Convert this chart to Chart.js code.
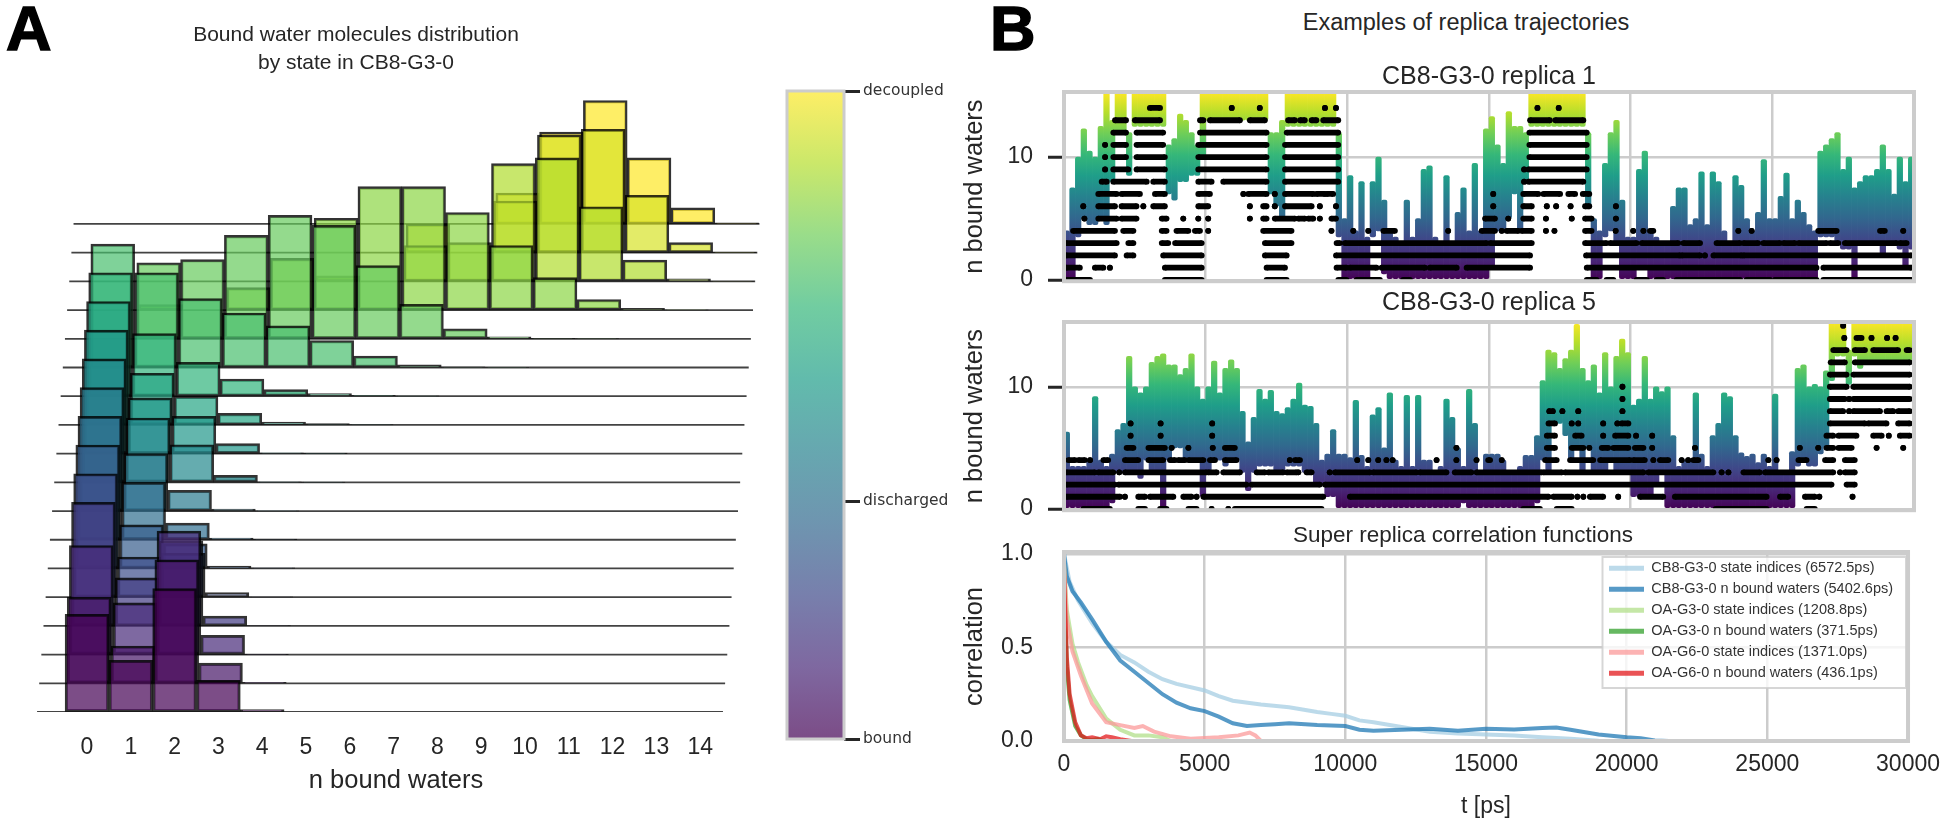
<!DOCTYPE html>
<html>
<head>
<meta charset="utf-8">
<title>Bound water molecules</title>
<script src="https://cdn.jsdelivr.net/npm/chart.js@4/dist/chart.umd.min.js"></script>
<style>
  html, body { margin: 0; background: #fff; }
  body { position: relative; width: 1950px; height: 824px; overflow: hidden; font-family: "Liberation Sans", Arial, sans-serif; color: #262626; }
  canvas { position: absolute; }
  .panel-letter { position: absolute; font-weight: bold; font-size: 63px; line-height: 63px; color: #000; -webkit-text-stroke: 1.5px #000; }
  .heading { position: absolute; left: 1466px; top: 8px; transform: translateX(-50%); font-size: 23.5px; line-height: 28px; white-space: nowrap; }
</style>
</head>
<body>
<div class="panel-letter" style="left:6px;top:-3px">A</div>
<div class="panel-letter" style="left:990px;top:-3px">B</div>
<div class="heading">Examples of replica trajectories</div>
<canvas id="ridge" width="792" height="824" style="left:0;top:0"></canvas>
<canvas id="colorbar" width="190" height="700" style="left:770px;top:70px"></canvas>
<canvas id="replica1" width="990" height="250" style="left:960px;top:60px"></canvas>
<canvas id="replica5" width="990" height="254" style="left:960px;top:285px"></canvas>
<canvas id="correlation" width="990" height="314" style="left:960px;top:510px"></canvas>
<script>
// Histogram heights per state row, bottom row (bound) first, one value per n bound waters 0..14.
const nBoundLabels = [0, 1, 2, 3, 4, 5, 6, 7, 8, 9, 10, 11, 12, 13, 14];
const stateHistograms = [
  [0.34, 0.18, 0.43, 0.11, 0.008, 0, 0, 0, 0, 0, 0, 0, 0, 0, 0],
  [0.3, 0.13, 0.43, 0.07, 0.003, 0, 0, 0, 0, 0, 0, 0, 0, 0, 0],
  [0.38, 0.18, 0.43, 0.067, 0.001, 0, 0, 0, 0, 0, 0, 0, 0, 0, 0],
  [0.43, 0.167, 0.296, 0.034, 0.001, 0, 0, 0, 0, 0, 0, 0, 0, 0, 0],
  [0.43, 0.14, 0.153, 0.016, 0.001, 0, 0, 0, 0, 0, 0, 0, 0, 0, 0],
  [0.43, 0.152, 0.086, 0.008, 0.002, 0, 0, 0, 0, 0, 0, 0, 0, 0, 0],
  [0.43, 0.2, 0.058, 0.006, 0.002, 0, 0, 0, 0, 0, 0, 0, 0, 0, 0],
  [0.43, 0.2, 0.072, 0.007, 0.001, 0, 0, 0, 0, 0, 0, 0, 0, 0, 0],
  [0.43, 0.224, 0.131, 0.024, 0.002, 0.001, 0, 0, 0, 0, 0, 0, 0, 0, 0],
  [0.43, 0.194, 0.13, 0.035, 0.003, 0.002, 0, 0, 0, 0, 0, 0, 0, 0, 0],
  [0.43, 0.18, 0.1, 0.04, 0.01, 0.005, 0.001, 0, 0, 0, 0, 0, 0, 0, 0],
  [0.43, 0.218, 0.118, 0.06, 0.023, 0.009, 0.003, 0.001, 0, 0, 0, 0, 0, 0, 0],
  [0.43, 0.33, 0.24, 0.19, 0.145, 0.094, 0.04, 0.009, 0.002, 0.001, 0, 0, 0, 0, 0],
  [0, 0.265, 0.276, 0.36, 0.43, 0.395, 0.255, 0.12, 0.035, 0.007, 0.002, 0.001, 0, 0, 0],
  [0, 0.019, 0, 0.078, 0.18, 0.32, 0.43, 0.43, 0.34, 0.225, 0.113, 0.037, 0.006, 0.001, 0],
  [0, 0, 0, 0, 0, 0.019, 0, 0.125, 0.135, 0.41, 0.43, 0.26, 0.074, 0.009, 0.001],
  [0, 0, 0, 0, 0, 0, 0, 0.1, 0, 0.18, 0.41, 0.43, 0.2, 0.035, 0.002],
  [0, 0, 0, 0, 0, 0, 0, 0, 0, 0.108, 0.32, 0.43, 0.23, 0.056, 0.004]
];

const colorbarLabels = ['bound', 'discharged', 'decoupled'];
const colorbarTicks = [0, 0.367, 1];

const timeTicks = [0, 5000, 10000, 15000, 20000, 25000, 30000];

// Coloured state trace of each replica, lowest and highest value in every 200 ps bin.
const replica1Low = [
  0, 0, 3.5, 5, 4.5, 4.5, 5, 4.5, 8, 12, 12, 8.5, 12.5, 12.5, 12.5, 12.5, 12.5, 12.5, 7, 6.5,
  8, 8, 8.5, 8.5, 10, 13, 13, 13, 13, 13, 13, 13, 13, 13, 13, 13, 7, 6, 5, 12.5,
  12.5, 12.5, 12.5, 12.5, 12.5, 12.5, 12.5, 12.5, 3.5, 0, 0, 0, 0, 0, 3.5, 4, 0.5, 0, 0, 0,
  0, 0, 0, 0, 0, 0, 0, 0, 0, 0, 0, 0, 0, 0, 0, 1, 4, 4, 5, 7,
  4, 8, 12.5, 12.5, 12.5, 12.5, 12.5, 12.5, 12.5, 12.5, 12.5, 12.5, 6, 0, 0, 3.5, 4, 3, 0, 0,
  0, 1, 1, 0, 0, 0, 0, 0, 0, 0, 0, 0, 0, 0, 0, 0, 0, 0, 0, 0,
  0, 0, 0, 0, 0, 0, 0, 0, 0, 0, 0, 0, 0, 3.5, 3.5, 3.5, 3, 2.5, 2.5, 0,
  3, 3, 3, 3, 2, 3, 3, 2.5, 1, 2.5
];
const replica1High = [
  4, 7.5, 10, 12.3, 10.5, 10, 12.5, 15.3, 13, 15.3, 15.3, 12, 15.3, 15.3, 15.3, 15.3, 15.3, 15.3, 11, 11.5,
  13.5, 13, 12, 11, 15.3, 15.3, 15.3, 15.3, 15.3, 15.3, 15.3, 15.3, 15.3, 15.3, 15.3, 15.3, 12, 12, 13, 15.3,
  15.3, 15.3, 15.3, 15.3, 15.3, 15.3, 15.3, 15.3, 12, 5, 8.5, 4, 8, 3.5, 8, 10, 6.5, 4, 3.5, 3,
  6.5, 3.5, 5, 9, 9.3, 3.5, 3, 8.5, 3, 5.5, 7.5, 4, 9.5, 4, 12.3, 13.3, 11, 9.5, 13.7, 12.5,
  12.5, 12, 15.3, 15.3, 15.3, 15.3, 15.3, 15.3, 15.3, 15.3, 15.3, 15.3, 12, 5, 4, 9.5, 12, 13, 6.5, 3.5,
  3.5, 9, 10.5, 4, 3.5, 3, 3, 6, 7.5, 7.5, 4.5, 5, 8.8, 4.5, 8.8, 8, 4, 3, 8.5, 7.7,
  5, 4, 5.5, 9.8, 5, 5, 6.8, 8.7, 5, 6.5, 5.5, 4.5, 4, 10.5, 11, 11.5, 12, 9, 10, 7.5,
  8, 8.5, 8.5, 9, 11, 9, 7, 10, 8, 10
];
const replica5Low = [
  0, 0, 0, 0, 0, 0, 0, 0, 0.5, 3, 3, 3, 3, 2.5, 4, 3, 3, 0, 4, 5,
  5, 4, 4, 4, 1, 3, 4, 4, 3.5, 4, 4, 3, 1.5, 3, 3.5, 3.5, 3.5, 3, 3, 3.5,
  3.5, 3.5, 3, 3, 2, 2, 1, 1, 0, 0, 0, 0, 0, 0, 0, 0, 0, 0, 0, 0,
  0, 0, 0, 0, 0, 0, 0, 0, 0, 0, 0.5, 0, 0, 0, 0, 0, 0, 0, 0, 0,
  0, 0, 0, 0.5, 4, 3, 7, 7, 6, 4, 5, 3, 5, 3, 3, 3, 4, 3, 3, 3,
  1, 1, 1, 1, 2, 3, 0, 0, 0, 0, 0, 0, 0, 0, 0, 0, 0, 0, 0, 0,
  0, 0, 0, 0, 0, 0, 0, 0, 0, 3.5, 4, 3.5, 3.5, 4.5, 5, 10.5, 12.5, 12.5, 10.2, 12.5,
  11.5, 12, 12, 12, 12, 12, 12, 12, 12, 12
];
const replica5High = [
  6.3, 3.5, 3.5, 3.5, 4, 9.2, 4, 3.5, 4.5, 6.5, 7, 12.5, 10, 9.5, 10, 12, 12.5, 12.7, 11.8, 11.8,
  11, 11.5, 12.7, 10, 9, 10, 12.1, 9.5, 11.5, 12.2, 11.5, 8, 5.5, 7.5, 9.8, 9, 9.7, 8, 7.8, 8.3,
  9, 10.3, 8.5, 8.4, 7, 4, 4.5, 6.5, 4.5, 4.5, 4.2, 8.9, 4.4, 3.5, 7.7, 8.3, 5, 9.5, 4, 3.5,
  9.3, 3.5, 9.3, 4, 4, 3, 3.5, 9, 7.5, 5, 3.5, 9.8, 7, 3, 4.5, 4.5, 4.5, 4, 3, 3,
  3.5, 4.4, 4.4, 6, 10.5, 13, 12.8, 11.5, 12.3, 13, 15.1, 11.5, 10.5, 11.8, 9.5, 12.8, 10, 12.5, 13.9, 12.8,
  8.5, 9, 12.5, 9, 10, 9.6, 10, 6, 3.5, 4, 4, 9.5, 4.5, 3.5, 6, 7, 9.5, 9.2, 6, 4.6,
  4.3, 4.5, 3.8, 4.5, 3.5, 9.4, 3, 3, 4.7, 11.5, 11.8, 10, 10.2, 10, 11.3, 15.3, 15.3, 15.3, 13, 15.3,
  15.3, 15.3, 15.3, 15.3, 15.3, 15.3, 15.3, 15.3, 15.3, 15.3
];

// n bound waters of each replica: per level the [from, to] time spans that hold dots.
const replica1Waters = [
  [[70, 920], [3560, 4860], [7150, 7860], [9680, 9970], [10330, 11150], [11970, 12210], [18450, 18800], [19150, 19390], [20210, 20570], [20920, 21150], [21620, 23860], [24090, 24920], [25090, 26560], [26800, 29910]],
  [[70, 560], [1090, 1390], [1620, 1620], [3560, 4860], [7150, 7800], [9620, 9970], [10090, 11030], [11210, 12740], [12910, 13860], [14210, 16450], [18450, 26560], [26800, 29910]],
  [[70, 1800], [2210, 2450], [3500, 4860], [7090, 7860], [9600, 16450], [18425, 21740], [21800, 22450], [22620, 22620], [22920, 23920], [23980, 29910]],
  [[70, 1860], [2270, 2450], [3450, 3680], [3920, 4860], [7090, 8030], [9620, 9740], [9910, 14920], [15040, 16510], [18390, 19150], [19270, 20210], [20390, 21680], [21860, 22450], [23030, 23860], [23980, 24500], [24680, 25270], [25390, 25800], [25920, 26920], [27030, 27330], [27560, 29390], [29500, 29740]],
  [[320, 1800], [2090, 2450], [3450, 3620], [3970, 4390], [4620, 4800], [5090, 5090], [7030, 8030], [9440, 9440], [10210, 10210], [10740, 10740], [11270, 11680], [13560, 13560], [14740, 15210], [15450, 15450], [15620, 16040], [16150, 16510], [17010, 17010], [17310, 17310], [18390, 18620], [19470, 19470], [20090, 20090], [20450, 20450], [20680, 20800], [23800, 23800], [24270, 24270], [26620, 27270], [28800, 28970], [29620, 29620]],
  [[720, 720], [1210, 1860], [2030, 2560], [3450, 3620], [4210, 4210], [4740, 4740], [5090, 5090], [6560, 6560], [7030, 7150], [7440, 8150], [8270, 8500], [8620, 8800], [9030, 9030], [9440, 9600], [14860, 15210], [15680, 15680], [16210, 16510], [17010, 17010], [17920, 17920], [18390, 18620], [19480, 19480]],
  [[680, 680], [1210, 1800], [2030, 2560], [2800, 2800], [3150, 3560], [4740, 5090], [6560, 6560], [7030, 7150], [7440, 7440], [7800, 8740], [9030, 9030], [9600, 9600], [15150, 15150], [16210, 16510], [17040, 17040], [17370, 17370], [17880, 17880], [18390, 18540], [19480, 19480]],
  [[1210, 1860], [2030, 2680], [3210, 3560], [4740, 5150], [6330, 6330], [6500, 7150], [7440, 7440], [7800, 8800], [8910, 9210], [9270, 9500], [15150, 15150], [16210, 16740], [16920, 17510], [17800, 18040], [18310, 18540]],
  [[1330, 1510], [1740, 2920], [3150, 3560], [4740, 5210], [5620, 7150], [7800, 9680], [16240, 16240], [16390, 18330]],
  [[1450, 1450], [1740, 2270], [2560, 3560], [4740, 7150], [7800, 9680], [16240, 16240], [16390, 18450]],
  [[1450, 1450], [1740, 2190], [2560, 3560], [4740, 7150], [7800, 9680], [16425, 18450]],
  [[1450, 1450], [1740, 2190], [2560, 3500], [4740, 7150], [7800, 9680], [16425, 18450]],
  [[1740, 2190], [2560, 3500], [4800, 7150], [7860, 9680], [16425, 18450]],
  [[1800, 2190], [2500, 3390], [4800, 4920], [5150, 6210], [6560, 7090], [7910, 8150], [8330, 8500], [8740, 8910], [9150, 9680], [16450, 17150], [17340, 18330]],
  [[3030, 3390], [5920, 5920], [6910, 6910], [9210, 9210], [9600, 9600], [16710, 16710], [17460, 17460]]
];
const replica5Waters = [
  [[680, 1620], [2620, 2860], [3390, 3620], [4390, 4680], [5210, 5210], [5800, 5800], [6030, 9090], [16210, 16800], [17390, 17920], [23000, 24800], [26210, 26500]],
  [[90, 1980], [2150, 2150], [2620, 2860], [3030, 3860], [4210, 4500], [4680, 4680], [4920, 9150], [10090, 17100], [17270, 17920], [18120, 18120], [18330, 18330], [18560, 19030], [19560, 19560], [20330, 21150], [21560, 24800], [25270, 25560], [26150, 26500], [26660, 26660], [27830, 27830]],
  [[90, 1800], [1920, 6440], [6620, 9030], [9210, 27090], [27620, 27910]],
  [[90, 1090], [1210, 1740], [1950, 1950], [2150, 5030], [5090, 5390], [5620, 6210], [6800, 7090], [7210, 7740], [7860, 8210], [8270, 8270], [8560, 8740], [9380, 9380], [9560, 10800], [10910, 12440], [12560, 13500], [13790, 14380], [14560, 16860], [16920, 17570], [17680, 20450], [20620, 22920], [23210, 23210], [23450, 23450], [23980, 24560], [24740, 27150], [27390, 27390], [27560, 27910]],
  [[150, 390], [510, 740], [920, 920], [1390, 1560], [2150, 2620], [2980, 3500], [3740, 3920], [4030, 4270], [4390, 4920], [5150, 5330], [5680, 6090], [7970, 7970], [8150, 8330], [10350, 10350], [10740, 10740], [11090, 11090], [11380, 11380], [11600, 11600], [13150, 13150], [13850, 13850], [14560, 14560], [14970, 15040], [15450, 15450], [16980, 17390], [17860, 18680], [18920, 19980], [20090, 20500], [20800, 20800], [21030, 21330], [21800, 21800], [22030, 22030], [22210, 22390], [24860, 24860], [25150, 25150], [25920, 26210], [26860, 27150], [27560, 27910]],
  [[2210, 2450], [2980, 3560], [3800, 3800], [4390, 4390], [5250, 5250], [5680, 6030], [13850, 13850], [17040, 17330], [17920, 18330], [18540, 18540], [18980, 19210], [19390, 19920], [20150, 20450], [20760, 20760], [22270, 22270], [25970, 25970], [26620, 26620], [26910, 27150], [27330, 27800], [28680, 28680], [29620, 29620]],
  [[2350, 2350], [3410, 3410], [5230, 5230], [17040, 17330], [18040, 18270], [19030, 19030], [19450, 19920], [20190, 20190], [20760, 20760], [26910, 27150], [27330, 27970], [28560, 28860], [29110, 29110], [29500, 29850]],
  [[2350, 2350], [3410, 3410], [5230, 5230], [17100, 17330], [17920, 17920], [18150, 18150], [19030, 19030], [19530, 19530], [19680, 19920], [27030, 28270], [28380, 29030], [29440, 29850]],
  [[17130, 17130], [17250, 17250], [17590, 17590], [18150, 18150], [19710, 19710], [27030, 27500], [27710, 27710], [27860, 28800], [29030, 29270], [29440, 29850]],
  [[19710, 19710], [27030, 27560], [27710, 27710], [27860, 29850]],
  [[19710, 19710], [27030, 27620], [27860, 29850]],
  [[27030, 27620], [27860, 29850]],
  [[27060, 27560], [27910, 29850]],
  [[27150, 27620], [27910, 28270], [28560, 29440], [29740, 29850]],
  [[27540, 27540], [27970, 28150], [28500, 28500], [29050, 29050], [29350, 29350]],
  [[27500, 27500]]
];

const correlationNames = [
  'CB8-G3-0 state indices (6572.5ps)',
  'CB8-G3-0 n bound waters (5402.6ps)',
  'OA-G3-0 state indices (1208.8ps)',
  'OA-G3-0 n bound waters (371.5ps)',
  'OA-G6-0 state indices (1371.0ps)',
  'OA-G6-0 n bound waters (436.1ps)'
];
const correlationCurves = [
  [[0, 1], [200, 0.85], [500, 0.75], [1000, 0.63], [1500, 0.53], [2000, 0.46], [2500, 0.42], [3000, 0.37], [3500, 0.33], [4000, 0.305], [5000, 0.27], [5500, 0.24], [6000, 0.215], [7000, 0.195], [8000, 0.18], [9000, 0.155], [9500, 0.145], [10000, 0.135], [10500, 0.11], [11000, 0.1], [12000, 0.075], [13000, 0.05], [14000, 0.04], [15000, 0.035], [16000, 0.03], [17000, 0.02], [18000, 0.012], [19000, 0.002], [19500, 0]],
  [[0, 1], [100, 0.88], [300, 0.8], [600, 0.74], [1000, 0.65], [1500, 0.53], [2000, 0.43], [2500, 0.37], [3000, 0.31], [3500, 0.25], [4000, 0.205], [4500, 0.175], [5000, 0.16], [5500, 0.13], [6000, 0.095], [6500, 0.08], [7000, 0.085], [7500, 0.09], [8000, 0.095], [9000, 0.085], [10000, 0.08], [10500, 0.06], [11000, 0.055], [12000, 0.06], [13000, 0.065], [14000, 0.055], [15000, 0.065], [16000, 0.062], [17000, 0.07], [17500, 0.072], [18000, 0.06], [19000, 0.035], [20000, 0.02], [20500, 0.015], [21000, 0.003], [21500, 0]],
  [[0, 0.95], [100, 0.7], [300, 0.52], [500, 0.42], [800, 0.3], [1000, 0.24], [1500, 0.12], [2000, 0.06], [2500, 0.03], [3000, 0.03], [3500, 0.02], [3800, 0]],
  [[0, 0.9], [100, 0.4], [200, 0.22], [400, 0.08], [600, 0.03], [800, 0.01], [1000, 0.005], [1200, 0.01], [1400, 0]],
  [[0, 0.95], [100, 0.65], [300, 0.48], [600, 0.35], [1000, 0.2], [1500, 0.1], [2000, 0.085], [2500, 0.07], [2800, 0.08], [3200, 0.05], [3800, 0.025], [4500, 0.012], [5500, 0.02], [6200, 0.03], [6600, 0.045], [6800, 0.03], [7000, 0]],
  [[0, 0.9], [100, 0.45], [200, 0.25], [400, 0.1], [600, 0.03], [800, 0.015], [1000, 0.02], [1300, 0.01], [1500, 0.025], [1700, 0.02], [2000, 0.01], [2400, 0]]
];
const correlationColors = [
  'rgba(166, 206, 227, 0.75)', 'rgba(31, 120, 180, 0.75)',
  'rgba(178, 223, 138, 0.75)', 'rgba(51, 160, 44, 0.75)',
  'rgba(251, 154, 153, 0.75)', 'rgba(227, 26, 28, 0.75)'
];

const viridis = [
  [68, 1, 84], [72, 40, 120], [62, 73, 137], [49, 104, 142], [38, 130, 142],
  [31, 158, 137], [53, 183, 121], [110, 206, 88], [181, 222, 43], [253, 231, 37]
];

const textColor = '#262626';
const gridColor = '#cccccc';
const rowStep = 0.1;
const rowShift = 0.049;
const binWidth = 200;

Chart.defaults.font.family = '"Liberation Sans", Arial, sans-serif';
Chart.defaults.color = textColor;
Chart.defaults.animation = false;
Chart.defaults.responsive = false;
Chart.defaults.plugins.legend.display = false;

const viridisColor = (fraction, alpha) => {
  const position = fraction * (viridis.length - 1);
  const lower = Math.min(Math.floor(position), viridis.length - 2);
  const mix = position - lower;
  const channels = viridis[lower].map((value, index) => Math.round(value + (viridis[lower + 1][index] - value) * mix));
  return `rgba(${channels.join(', ')}, ${alpha})`;
};

// Vertical viridis fill running between two values of the y scale.
const viridisGradient = (chart, from, to, alpha) => {
  const { y } = chart.scales;
  const gradient = chart.ctx.createLinearGradient(0, y.getPixelForValue(from), 0, y.getPixelForValue(to));
  viridis.forEach((_, index) => {
    const fraction = index / (viridis.length - 1);
    gradient.addColorStop(fraction, viridisColor(fraction, alpha));
  });
  return gradient;
};

const framePlugin = {
  id: 'frame',
  afterDraw(chart, args, options) {
    const { ctx, chartArea } = chart;
    ctx.save();
    ctx.strokeStyle = gridColor;
    ctx.lineWidth = options.width || 4;
    ctx.strokeRect(chartArea.left, chartArea.top, chartArea.width, chartArea.height);
    ctx.restore();
  }
};

// Titles in the reference are not centred on their canvas, so move the title block.
const titlePlacePlugin = {
  id: 'titlePlace',
  afterLayout(chart, args, options) {
    chart.titleBlock.left = options.center - 300;
    chart.titleBlock.right = options.center + 300;
  }
};

// Put the correlation legend in the upper right corner with a faint box behind it.
const legendBoxPlugin = {
  id: 'legendBox',
  afterLayout(chart) {
    const { legend, ctx } = chart;
    legend.left = 642.5;
    legend.right = 950;
    legend.top = 43.5;
    legend.bottom = 178;
    if (legend.boxed) {
      return;
    }
    const drawLegend = legend.draw.bind(legend);
    legend.draw = () => {
      ctx.save();
      ctx.fillStyle = 'rgba(255, 255, 255, 0.8)';
      ctx.strokeStyle = 'rgba(204, 204, 204, 0.8)';
      ctx.lineWidth = 2;
      ctx.fillRect(642.5, 47, 303.5, 131);
      ctx.strokeRect(642.5, 47, 303.5, 131);
      ctx.restore();
      drawLegend();
    };
    legend.boxed = true;
  }
};

const buildRidgeDatasets = () => stateHistograms.flatMap((row, rowIndex) => {
  const base = rowIndex * rowStep;
  const shift = rowIndex * rowShift;
  const fraction = rowIndex / (stateHistograms.length - 1);
  return [{
    type: 'bar',
    order: rowIndex,
    data: nBoundLabels
      .filter((n) => row[n] > 0)
      .map((n) => ({ x: n + shift, y: [base, base + row[n]] })),
    backgroundColor: viridisColor(fraction, 0.7),
    borderColor: 'rgba(0, 0, 0, 0.8)',
    borderWidth: 2.4,
    borderSkipped: false,
    barThickness: 43.8,
    grouped: false
  }, {
    type: 'line',
    order: rowIndex - 0.5,
    data: [{ x: -1.14 + shift, y: base }, { x: 14.52 + shift, y: base }],
    borderColor: 'rgba(20, 20, 20, 0.8)',
    borderWidth: 1.8,
    pointRadius: 0
  }];
});

new Chart(document.getElementById('ridge'), {
  type: 'bar',
  data: { datasets: buildRidgeDatasets() },
  plugins: [titlePlacePlugin],
  options: {
    plugins: {
      titlePlace: { center: 356 },
      title: {
        display: true,
        text: ['Bound water molecules distribution', 'by state in CB8-G3-0'],
        font: { size: 21, weight: 'normal', lineHeight: 1.33 },
        color: textColor,
        padding: { top: 21, bottom: 3 }
      }
    },
    scales: {
      x: {
        type: 'linear',
        offset: false,
        min: -1.986,
        max: 16.096,
        grid: { display: false },
        border: { display: false },
        afterBuildTicks: (axis) => { axis.ticks = nBoundLabels.map((value) => ({ value })); },
        afterFit: (axis) => { axis.height = 112; },
        ticks: { font: { size: 23 }, padding: 14, maxRotation: 0, autoSkip: false, color: textColor, callback: (value) => String(value) },
        title: { display: true, text: 'n bound waters', font: { size: 25.5 }, color: textColor, padding: { top: 0, bottom: 28 } }
      },
      y: { display: false, min: 0, max: 2.202 }
    }
  }
});

new Chart(document.getElementById('colorbar'), {
  type: 'bar',
  data: {
    labels: ['state'],
    datasets: [{
      data: [[0, 1]],
      barPercentage: 1,
      categoryPercentage: 1,
      backgroundColor: (context) => (context.chart.chartArea ? viridisGradient(context.chart, 0, 1, 0.7) : 'transparent')
    }]
  },
  plugins: [framePlugin],
  options: {
    layout: { padding: { left: 17, top: 21, bottom: 31 } },
    plugins: { frame: { width: 3 } },
    scales: {
      x: { display: false },
      y: {
        position: 'right',
        min: 0,
        max: 1,
        grid: { drawOnChartArea: false, drawTicks: true, tickColor: '#262626', tickWidth: 3, tickLength: 16 },
        border: { display: false },
        afterBuildTicks: (axis) => { axis.ticks = colorbarTicks.map((value) => ({ value })); },
        afterFit: (axis) => { axis.width = 116; },
        ticks: {
          font: { family: '"DejaVu Sans"', size: 15.5 },
          color: '#333333',
          padding: 3,
          callback: (value) => colorbarLabels[colorbarTicks.indexOf(value)]
        }
      }
    }
  }
});

const spansToPoints = (spans, level) => spans.flatMap(([from, to]) => [
  { x: from, y: level },
  { x: to, y: level },
  { x: to, y: null }
]);

const renderReplica = (canvasId, titleText, titlePadding, low, high, waters) => {
  const stateTrace = {
    type: 'bar',
    order: 2,
    data: low.map((value, index) => ({ x: (index + 0.5) * binWidth, y: [value, high[index]] })),
    backgroundColor: (context) => (context.chart.chartArea ? viridisGradient(context.chart, 0, 15.3, 1) : 'transparent'),
    barThickness: 5.6,
    borderRadius: 2,
    borderSkipped: false,
    grouped: false
  };
  const waterRows = waters.map((spans, level) => ({
    type: 'line',
    order: 1,
    data: spansToPoints(spans, level),
    borderColor: '#000000',
    backgroundColor: '#000000',
    borderWidth: 5.8,
    pointRadius: 2.9,
    pointBorderWidth: 0,
    spanGaps: false
  }));
  return new Chart(document.getElementById(canvasId), {
    type: 'bar',
    data: { datasets: [stateTrace, ...waterRows] },
    plugins: [framePlugin, titlePlacePlugin],
    options: {
      layout: { padding: { right: 36, bottom: 16 } },
      plugins: {
        titlePlace: { center: 529 },
        title: {
          display: true,
          text: titleText,
          font: { size: 25, weight: 'normal', lineHeight: 1.2 },
          color: textColor,
          padding: titlePadding
        }
      },
      scales: {
        x: {
          type: 'linear',
          offset: false,
          min: 0,
          max: 30000,
          grid: { color: gridColor, lineWidth: 2.5, drawTicks: false, offset: false },
          border: { display: false },
          afterBuildTicks: (axis) => { axis.ticks = timeTicks.map((value) => ({ value })); },
          ticks: { display: false, autoSkip: false }
        },
        y: {
          min: -0.1,
          max: 15.3,
          grid: { color: gridColor, lineWidth: 2.5, tickColor: '#262626', tickWidth: 3, tickLength: 16 },
          border: { display: false },
          afterBuildTicks: (axis) => { axis.ticks = [{ value: 0 }, { value: 10 }]; },
          afterFit: (axis) => { axis.width = 104; },
          ticks: { font: { size: 23 }, padding: 15, color: textColor },
          title: { display: true, text: 'n bound waters', font: { size: 25.5 }, color: textColor, padding: 0 }
        }
      }
    }
  });
};

renderReplica('replica1', 'CB8-G3-0 replica 1', { top: 2, bottom: 0 }, replica1Low, replica1High, replica1Waters);
renderReplica('replica5', 'CB8-G3-0 replica 5', { top: 3, bottom: 4 }, replica5Low, replica5High, replica5Waters);

new Chart(document.getElementById('correlation'), {
  type: 'line',
  data: {
    datasets: correlationCurves.map((curve, index) => ({
      label: correlationNames[index],
      order: correlationCurves.length - index,
      data: curve.map(([x, y]) => ({ x, y })),
      borderColor: correlationColors[index],
      backgroundColor: correlationColors[index],
      borderWidth: 4,
      pointRadius: 0
    }))
  },
  plugins: [framePlugin, legendBoxPlugin, titlePlacePlugin],
  options: {
    layout: { padding: { right: 36 } },
    plugins: {
      titlePlace: { center: 503 },
      title: {
        display: true,
        text: 'Super replica correlation functions',
        font: { size: 22.5, weight: 'normal', lineHeight: 1.2 },
        color: textColor,
        padding: { top: 12, bottom: 3 }
      },
      legend: {
        display: true,
        position: 'chartArea',
        labels: {
          boxWidth: 35,
          boxHeight: 5,
          padding: 6.5,
          color: '#333333',
          font: { size: 14.5 },
          generateLabels: (chart) => chart.data.datasets.map((dataset, datasetIndex) => ({
            text: dataset.label,
            fillStyle: dataset.borderColor,
            strokeStyle: dataset.borderColor,
            lineWidth: 0,
            fontColor: '#333333',
            datasetIndex
          }))
        }
      }
    },
    scales: {
      x: {
        type: 'linear',
        min: 0,
        max: 30000,
        grid: { color: gridColor, lineWidth: 2.5, drawTicks: false },
        border: { display: false },
        afterBuildTicks: (axis) => { axis.ticks = timeTicks.map((value) => ({ value })); },
        afterFit: (axis) => { axis.height = 83; },
        ticks: { font: { size: 23 }, padding: 10, maxRotation: 0, autoSkip: false, color: textColor, callback: (value) => String(value) },
        title: { display: true, text: 't [ps]', font: { size: 23 }, color: textColor, padding: { top: 0, bottom: 4 } }
      },
      y: {
        min: 0,
        max: 1.01,
        grid: { color: gridColor, lineWidth: 2.5, tickColor: 'transparent', tickLength: 16 },
        border: { display: false },
        afterBuildTicks: (axis) => { axis.ticks = [{ value: 0 }, { value: 0.5 }, { value: 1 }]; },
        afterFit: (axis) => { axis.width = 104; },
        ticks: { font: { size: 23 }, padding: 15, color: textColor, callback: (value) => value.toFixed(1) },
        title: { display: true, text: 'correlation', font: { size: 25.5 }, color: textColor, padding: 0 }
      }
    }
  }
});
</script>
</body>
</html>
